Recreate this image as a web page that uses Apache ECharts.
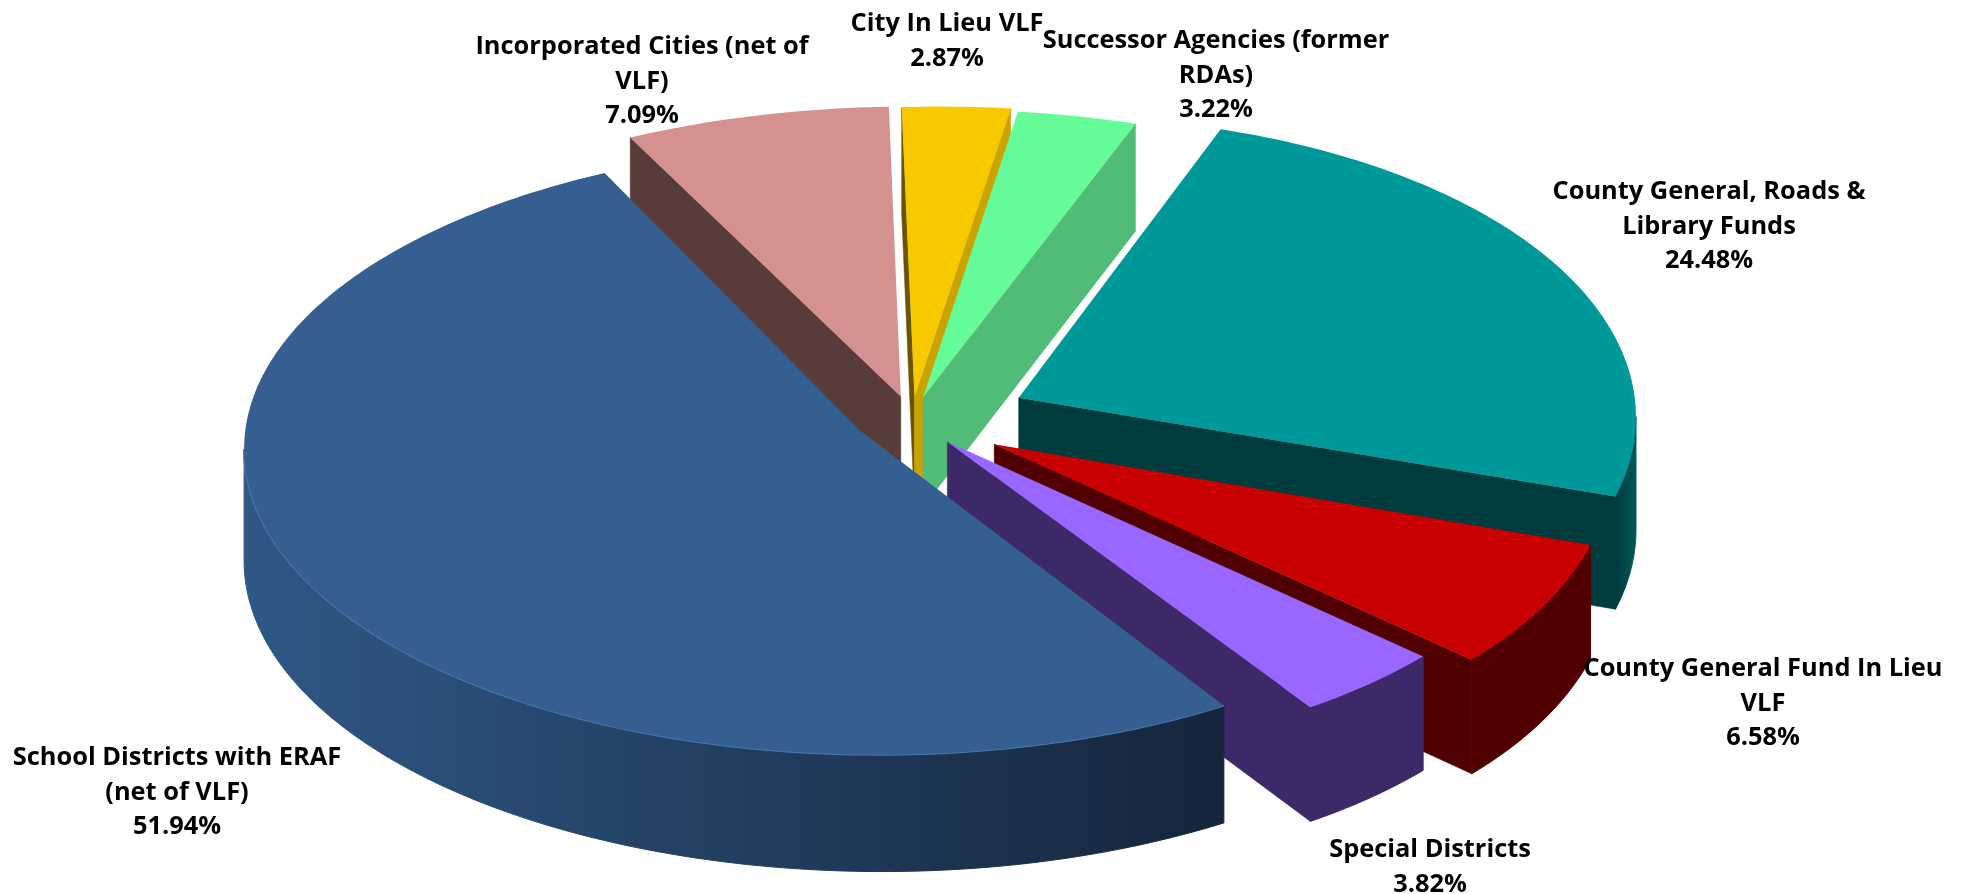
<!DOCTYPE html>
<html><head><meta charset="utf-8">
<style>html,body{margin:0;padding:0;background:#fff}#c{width:1970px;height:894px}</style>
<script src="https://cdn.jsdelivr.net/npm/echarts@6/dist/echarts.min.js"></script>
</head><body><div id="c"></div>
<script>
// Data, clockwise from the first slice after the School Districts slice
const categories = ['Incorporated Cities (net of\nVLF)','City In Lieu VLF','Successor Agencies (former\nRDAs)','County General, Roads &\nLibrary Funds','County General Fund In Lieu\nVLF','Special Districts','School Districts with ERAF\n(net of VLF)'];
const shares = [7.09,2.87,3.22,24.48,6.58,3.82,51.94];

// Look of the slices
const explode = [0.08,0.08,0.08,0.185,0.15,0.09,0.085];
const radial = [1.02,1.02,1.01,0.985,0.975,0.975,1];
const wallScale = [1,1,1,1,1,1,1.03];
const leaning = [1,1,1,1,1,1,0];
const nudge = [[1,-1],[-1,0],[-2,0],[1,1],[0,0],[-2,0],[-5,-3]];
const topColors = ['#d59190','#f9c900','#66fb99','#009999','#c80000','#9966ff','#365f91'];
const faceColors = ['#583c3a','#c9a400','#50bc78','#003b3d','#500000','#3d2868','#16263c'];
const leftFaceColors = ['#583c3a','#6b5500','#50bc78','#003b3d','#500000','#3d2868','#16263c'];
const wallGrad = [['#583c3a','#583c3a'],['#c9a400','#c9a400'],['#50bc78','#50bc78'],['#003b3d','#00585a'],['#500000','#500000'],['#3d2868','#3d2868'],['#2f5885','#15253b']];
const labelAt = [[642,47],[947,24],[1216,41],[1709,192],[1763,669],[1430,850],[177,758]];
const startDeg = 244.3;
const view = {cx:912, cy:421, rx:635, ry:304, p:0.059, q:0.031, h:110, shear:0.037, squeeze:0.04, tilt:0.012};

function proj(u,v,down,lean,scale){
  const w = 1 - view.p*v - view.q*u;
  let y = view.cy + view.ry*v/w;
  const squeeze = lean && u>0 ? 1 - view.squeeze*u : 1;
  const x = view.cx + view.rx*u/w*squeeze + (lean ? view.shear*(y-view.cy) : 0);
  if(lean && x>view.cx) y -= view.tilt*(x-view.cx);
  return [x, y + (down?scale*view.h/Math.sqrt(w):0)];
}
const total = shares.reduce((a,b)=>a+b,0);
function sliceAngles(i){
  let a = startDeg;
  for(let k=0;k<i;k++) a += shares[k]/total*360;
  return [a, a + shares[i]/total*360];
}
function renderItem(params, api){
  const i = params.dataIndex;
  const val = api.value(1);
  const [a0,a1] = sliceAngles(i);
  const mid = (a0+a1)/2*Math.PI/180;
  const ou = explode[i]*Math.cos(mid), ov = explode[i]*Math.sin(mid);
  const P = (deg,r,down)=>{
    const t=deg*Math.PI/180, R=r*radial[i];
    const q=proj(ou+R*Math.cos(t),ov+R*Math.sin(t),down,leaning[i],wallScale[i]);
    return [q[0]+nudge[i][0],q[1]+nudge[i][1]];
  };
  const n = Math.max(8,Math.ceil(a1-a0));
  const rim=[]; for(let k=0;k<=n;k++) rim.push(a0+(a1-a0)*k/n);
  const topPts=[P(a0,0,false)].concat(rim.map(d=>P(d,1,false)));
  const cxs=topPts.reduce((s,p)=>s+p[0],0)/topPts.length, cys=topPts.reduce((s,p)=>s+p[1],0)/topPts.length;
  const children=[];
  // radial faces, when they face the viewer
  [[a0,leftFaceColors[i]],[a1,faceColors[i]]].forEach(([d,col])=>{
    const A=P(d,0,false),B=P(d,1,false);
    let nx=B[1]-A[1],ny=-(B[0]-A[0]);
    const mx=(A[0]+B[0])/2-cxs,my=(A[1]+B[1])/2-cys;
    if(nx*mx+ny*my<0){nx=-nx;ny=-ny;}
    if(ny>0) children.push({type:'polygon',silent:true,shape:{points:[A,B,P(d,1,true),P(d,0,true)]},style:{fill:col,stroke:col,lineWidth:0.5}});
  });
  // outer wall: the part of the rim that moves left on screen faces the viewer
  const vis=[];
  for(let k=0;k<rim.length;k++){
    const a=P(rim[k],1,false),b=P(rim[Math.min(k+1,rim.length-1)],1,false),c=P(rim[Math.max(k-1,0)],1,false);
    if(b[0]<a[0]||c[0]>a[0]) vis.push(rim[k]);
  }
  if(vis.length>1){
    const up=vis.map(d=>P(d,1,false)), lo=vis.map(d=>P(d,1,true)).reverse();
    const xs=up.map(p=>p[0]);
    const x0=Math.min(...xs),x1=Math.max(...xs);
    const wallFill={type:'linear',x:x0,y:0,x2:x1,y2:0,global:true,colorStops:[{offset:0,color:wallGrad[i][0]},{offset:1,color:wallGrad[i][1]}]};
    children.push({type:'polygon',silent:true,shape:{points:up.concat(lo)},style:{fill:wallFill,stroke:wallFill,lineWidth:1}});
    if(i===shares.length-1) children.push({type:'polyline',silent:true,shape:{points:up},style:{stroke:'#4a78b0',lineWidth:2,fill:null}});
  }
  children.push({type:'polygon',silent:true,shape:{points:topPts},style:{fill:topColors[i]}});
  children.push({type:'text',silent:true,z2:50,style:{
    x:labelAt[i][0],y:labelAt[i][1]-17,text:categories[i]+'\n'+val.toFixed(2)+'%',
    align:'center',verticalAlign:'top',font:'bold 25.4px "Open Sans"',lineHeight:34.5,fill:'#000'}});
  return {type:'group',children};
}
const chart = echarts.init(document.getElementById('c'),null,{renderer:'canvas'});
chart.setOption({
  animation:false,
  backgroundColor:'#fff',
  series:[{type:'custom',coordinateSystem:'none',clip:false,renderItem,
    data:shares.map((v,i)=>({name:categories[i],value:[i,v]}))}]
});
</script></body></html>
